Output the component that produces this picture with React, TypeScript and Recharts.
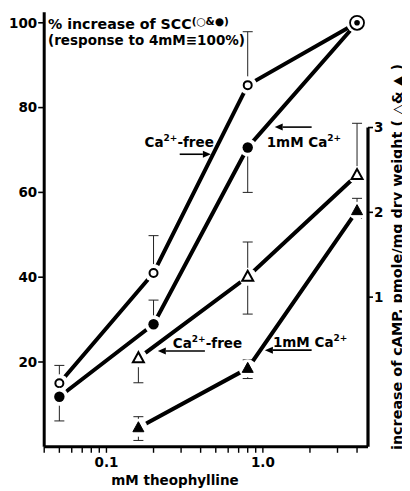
import React from 'react';
import { ComposedChart, Line, XAxis, YAxis, ErrorBar, ReferenceLine, Customized } from 'recharts';

const FONT = '"DejaVu Sans", sans-serif';

// theophylline concentrations (mM)
const sccDoses = [0.05, 0.2, 0.8, 4];
// % increase of SCC (response to 4 mM = 100%)
const sccCaFree = [15, 41, 85.3, 100];
const sccCaFreeErr = [[0, 4.2], [0, 8.8], [0, 12.6], [0, 0]];
const sccCa1mM = [11.8, 28.9, 70.6, 100];
const sccCa1mMErr = [[5.7, 0], [0, 5.7], [10.6, 0], [0, 0]];

// cAMP increase, pmole/mg dry weight
const campDoses = [0.16, 0.8, 4];
const campCaFree = [0.28, 1.24, 2.44];
const campCaFreeErr = [[0.29, 0], [0.44, 0.41], [0, 0.61]];
const campCa1mM = [-0.54, 0.16, 2.02];
const campCa1mMErr = [[0.15, 0.13], [0.12, 0.1], [0.09, 0.145]];

const xTicks = [0.04, 0.05, 0.06, 0.07, 0.08, 0.09, 0.1, 0.2, 0.3, 0.4, 0.5, 0.6, 0.7, 0.8, 0.9, 1, 2, 3, 4];
const xLabels: Record<string, string> = { '0.1': '0.1', '1': '1.0' };
const leftTicks = [20, 40, 60, 80, 100];
const rightTicks = [1, 2, 3];

const X_DOMAIN: [number, number] = [0.04, 4.7];
const LEFT_DOMAIN: [number, number] = [0, 102.5];
// right axis: 1 unit == 20 left units, right 0 == left 15.3
const RIGHT_DOMAIN: [number, number] = [(0 - 15.3) / 20, (102.5 - 15.3) / 20];

const build = (xs: number[], ys: number[], es: number[][]) => xs.map((x, i) => ({ x, y: ys[i], err: es[i] }));
const dataSccFree = build(sccDoses, sccCaFree, sccCaFreeErr);
const dataScc1mM = build(sccDoses, sccCa1mM, sccCa1mMErr);
const dataCampFree = build(campDoses, campCaFree, campCaFreeErr);
const dataCamp1mM = build(campDoses, campCa1mM, campCa1mMErr);

type Kind = 'openCircle' | 'filledCircle' | 'openTri' | 'filledTri';

const makeDot = (kind: Kind) => (p: any) => {
  const { cx, cy, index, payload } = p;
  if (cx == null || cy == null) return <g key={`k-${kind}-${index}`} />;
  const circled = (kind === 'openCircle' || kind === 'filledCircle') && payload && payload.x === 4;
  let mark: React.ReactNode;
  if (circled) {
    mark = (
      <g>
        <circle cx={cx} cy={cy} r={7} fill="#fff" stroke="#000" strokeWidth={1.8} />
        <circle cx={cx} cy={cy} r={2.8} fill="#000" />
      </g>
    );
  } else if (kind === 'openCircle') {
    mark = <circle cx={cx} cy={cy} r={4} fill="#fff" stroke="#000" strokeWidth={2} />;
  } else if (kind === 'filledCircle') {
    mark = <circle cx={cx} cy={cy} r={5.2} fill="#000" />;
  } else {
    const pts = `${cx},${cy - 6} ${cx - 5.5},${cy + 4} ${cx + 5.5},${cy + 4}`;
    mark = kind === 'openTri'
      ? <polygon points={pts} fill="#fff" stroke="#000" strokeWidth={2} strokeLinejoin="miter" />
      : <polygon points={pts} fill="#000" stroke="#000" strokeWidth={1} />;
  }
  return (
    <g key={`k-${kind}-${index}`}>
      <circle cx={cx} cy={cy} r={circled ? 10.5 : 9} fill="#fff" />
      {mark}
    </g>
  );
};

// annotation arrows: tail -> tip in data coordinates (left axis units)
const annotations = [
  { tail: { x: 0.294, y: 69.0 }, tip: { x: 0.465, y: 69.0 }, label: 'free', dx: 3, dy: -7, anchor: 'end' },
  { tail: { x: 2.05, y: 75.4 }, tip: { x: 1.19, y: 75.4 }, label: '1mM', dx: -8, dy: 20, anchor: 'start' },
  { tail: { x: 0.426, y: 22.6 }, tip: { x: 0.213, y: 22.6 }, label: 'free', dx: 15, dy: -3, anchor: 'start' },
  { tail: { x: 2.05, y: 22.8 }, tip: { x: 1.03, y: 22.8 }, label: '1mM', dx: 8, dy: -3, anchor: 'start' },
];

const ArrowShape = (label: string, dx: number, dy: number, anchor: string) => (p: any) => {
  const { x1, y1, x2, y2 } = p;
  const ang = Math.atan2(y2 - y1, x2 - x1);
  const L = 8, W = 3.5;
  const bx = x2 - L * Math.cos(ang), by = y2 - L * Math.sin(ang);
  const px = -Math.sin(ang) * W, py = Math.cos(ang) * W;
  return (
    <g>
      <line x1={x1} y1={y1} x2={bx} y2={by} stroke="#000" strokeWidth={1.6} />
      <polygon points={`${x2},${y2} ${bx + px},${by + py} ${bx - px},${by - py}`} fill="#000" />
      <text x={x2 + dx} y={y2 + dy} textAnchor={anchor as any} fontFamily={FONT} fontWeight={700} fontSize={13.5} fill="#000">
        {label === 'free' ? (
          <>Ca<tspan fontSize={9} dy={-6}>2+</tspan><tspan dy={6}>-free</tspan></>
        ) : (
          <>1mM Ca<tspan fontSize={9} dy={-6}>2+</tspan></>
        )}
      </text>
    </g>
  );
};

const Texts = () => (
  <g fontFamily={FONT} fontWeight={700} fill="#000">
    <text x={40} y={21} fontSize={14.2}>
      % increase of SCC<tspan fontSize={10.5} dy={-4}>(○&amp;●)</tspan>
    </text>
    <text x={40} y={37} fontSize={13.5}>(response to 4mM≡100%)</text>
    <text x={167} y={477} fontSize={13.5} textAnchor="middle">mM theophylline</text>
    <text
      x={0}
      y={0}
      fontSize={13.5}
      textAnchor="middle"
      textLength={386}
      lengthAdjust="spacingAndGlyphs"
      transform="translate(394 249) rotate(-90)"
    >
      increase of cAMP, pmole/mg dry weight ( △&amp; ▲ )
    </text>
  </g>
);

const tickStyle = { fontFamily: FONT, fontWeight: 700, fontSize: 13.5, fill: '#000' };

export default function App() {
  return (
    <ComposedChart
      width={402}
      height={483}
      margin={{ top: 4.2, right: 0, bottom: 0, left: 0 }}
      style={{ fontFamily: FONT, background: '#fff' }}
    >
      <XAxis
        dataKey="x"
        type="number"
        scale="log"
        domain={X_DOMAIN}
        allowDataOverflow
        ticks={xTicks}
        interval={0}
        tickFormatter={(v: number) => xLabels[String(v)] ?? ''}
        height={44.2}
        axisLine={{ stroke: '#000', strokeWidth: 3 }}
        tickLine={{ stroke: '#000', strokeWidth: 1.4 }}
        tickSize={6}
        tickMargin={5}
        tick={tickStyle}
      />
      <YAxis
        yAxisId="left"
        type="number"
        domain={LEFT_DOMAIN}
        allowDataOverflow
        ticks={leftTicks}
        interval={0}
        width={36.2}
        axisLine={{ stroke: '#000', strokeWidth: 3 }}
        tickLine={{ stroke: '#000', strokeWidth: 1.6 }}
        tickSize={6}
        tickMargin={1}
        tick={tickStyle}
      />
      <YAxis
        yAxisId="right"
        orientation="right"
        type="number"
        domain={RIGHT_DOMAIN}
        allowDataOverflow
        ticks={rightTicks}
        interval={0}
        width={42}
        axisLine={false}
        tickLine={{ stroke: '#000', strokeWidth: 1.6 }}
        tickSize={5}
        tickMargin={1}
        tick={tickStyle}
      />
      <ReferenceLine
        yAxisId="right"
        segment={[{ x: X_DOMAIN[1], y: RIGHT_DOMAIN[0] }, { x: X_DOMAIN[1], y: 3 }]}
        stroke="#000"
        strokeWidth={3.2}
        ifOverflow="visible"
      />
      {annotations.map((a, i) => (
        <ReferenceLine
          key={`ann-${i}`}
          yAxisId="left"
          segment={[a.tail, a.tip]}
          ifOverflow="visible"
          shape={ArrowShape(a.label, a.dx, a.dy, a.anchor)}
        />
      ))}
      <Line yAxisId="left" data={dataSccFree} dataKey="y" stroke="#000" strokeWidth={4} isAnimationActive={false} dot={makeDot('openCircle')} activeDot={false}>
        <ErrorBar dataKey="err" direction="y" width={5} stroke="#222" strokeWidth={1} />
      </Line>
      <Line yAxisId="left" data={dataScc1mM} dataKey="y" stroke="#000" strokeWidth={4} isAnimationActive={false} dot={makeDot('filledCircle')} activeDot={false}>
        <ErrorBar dataKey="err" direction="y" width={5} stroke="#222" strokeWidth={1} />
      </Line>
      <Line yAxisId="right" data={dataCampFree} dataKey="y" stroke="#000" strokeWidth={4} isAnimationActive={false} dot={makeDot('openTri')} activeDot={false}>
        <ErrorBar dataKey="err" direction="y" width={5} stroke="#222" strokeWidth={1} />
      </Line>
      <Line yAxisId="right" data={dataCamp1mM} dataKey="y" stroke="#000" strokeWidth={4} isAnimationActive={false} dot={makeDot('filledTri')} activeDot={false}>
        <ErrorBar dataKey="err" direction="y" width={5} stroke="#222" strokeWidth={1} />
      </Line>
      <Customized component={Texts} />
    </ComposedChart>
  );
}
